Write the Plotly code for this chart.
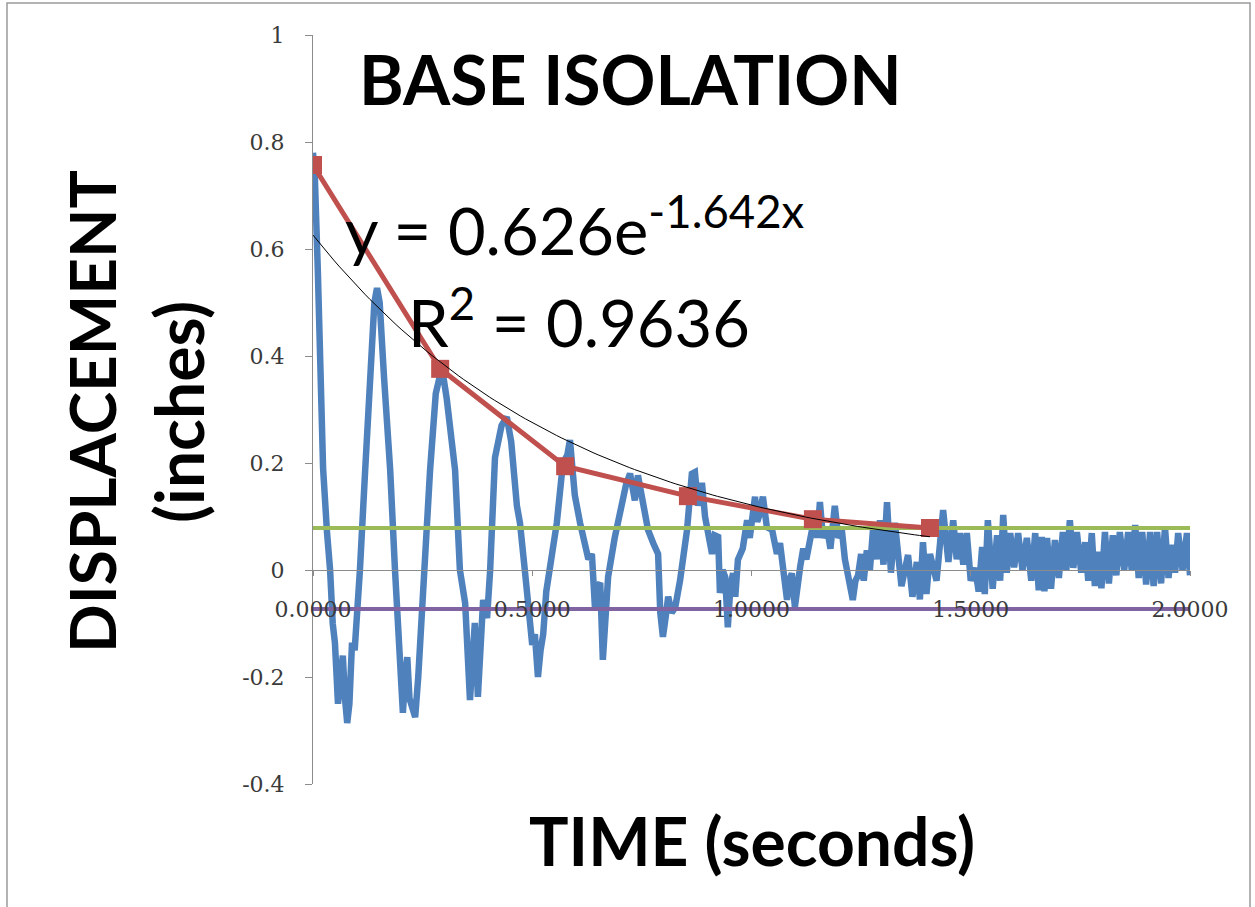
import numpy as np
import plotly.graph_objects as go

# ---------------- data ----------------
TIME_S = [
    0.000, 0.004, 0.011, 0.023, 0.032, 0.039, 0.045, 0.050, 0.057, 0.062, 0.068, 0.073, 0.078, 0.083, 0.089, 0.095, 0.100, 0.107,
    0.119, 0.130, 0.140, 0.146, 0.152, 0.162, 0.176, 0.187,
    0.195, 0.200, 0.205, 0.210, 0.215, 0.220, 0.233, 0.240, 0.245,
    0.255, 0.267, 0.280, 0.294, 0.305, 0.324, 0.335,
    0.342, 0.347, 0.358, 0.369, 0.376, 0.388, 0.397, 0.404,
    0.415, 0.430, 0.442, 0.452, 0.465, 0.472, 0.483,
    0.490, 0.495, 0.500, 0.506, 0.513, 0.519, 0.525, 0.532, 0.540,
    0.556, 0.570, 0.580, 0.586, 0.597, 0.609, 0.620, 0.628, 0.636, 0.643, 0.650, 0.655, 0.661, 0.667, 0.673,
    0.688, 0.705, 0.714, 0.723, 0.734, 0.741, 0.752, 0.764, 0.776, 0.787, 0.792, 0.798, 0.804, 0.810, 0.818, 0.826, 0.837,
    0.845, 0.853, 0.864, 0.871,
    0.878, 0.887, 0.894, 0.901, 0.910, 0.916, 0.924, 0.928, 0.934, 0.940, 0.946, 0.952, 0.958, 0.963, 0.969,
    0.980, 0.990, 0.996, 1.008, 1.013, 1.017, 1.026, 1.035, 1.047, 1.058, 1.065, 1.070, 1.076, 1.081, 1.086,
    1.092, 1.099, 1.105, 1.111, 1.118, 1.125, 1.138, 1.145, 1.150, 1.156, 1.163, 1.172, 1.180, 1.190, 1.198,
    1.206, 1.213, 1.220, 1.226, 1.231, 1.237, 1.243, 1.250, 1.256, 1.263, 1.270, 1.277, 1.285, 1.293,
    1.301, 1.309, 1.318, 1.327, 1.342, 1.357, 1.367, 1.377, 1.384, 1.391, 1.399, 1.407, 1.422, 1.437,
    1.449, 1.460, 1.468, 1.475, 1.483, 1.491, 1.500, 1.510, 1.518, 1.526, 1.532, 1.539, 1.550, 1.560,
    1.567, 1.574, 1.582, 1.590, 1.599, 1.608, 1.618, 1.628, 1.638, 1.647, 1.655, 1.662, 1.668, 1.674,
    1.683, 1.692, 1.701, 1.710, 1.718, 1.726, 1.734, 1.742, 1.752, 1.761, 1.768, 1.776, 1.783, 1.790,
    1.798, 1.806, 1.815, 1.824, 1.832, 1.840, 1.850, 1.859, 1.867, 1.875, 1.883, 1.891, 1.900, 1.909,
    1.917, 1.925, 1.934, 1.943, 1.951, 1.959, 1.966, 1.973, 1.983, 1.993, 2.000,
]
DISPLACEMENT_IN = [
    0.780, 0.740, 0.560, 0.190, 0.070, 0.000, -0.100, -0.136, -0.250, -0.200, -0.160, -0.240, -0.286, -0.250, -0.136, -0.150, -0.060, 0.000,
    0.187, 0.380, 0.500, 0.527, 0.500, 0.360, 0.187, 0.000,
    -0.118, -0.150, -0.267, -0.200, -0.163, -0.240, -0.275, -0.200, -0.118,
    0.000, 0.187, 0.330, 0.379, 0.320, 0.187, 0.000,
    -0.030, -0.062, -0.243, -0.099, -0.237, -0.056, -0.090, 0.000,
    0.210, 0.270, 0.286, 0.240, 0.120, 0.088, 0.000,
    -0.060, -0.100, -0.140, -0.120, -0.200, -0.150, -0.120, -0.040, 0.000,
    0.088, 0.200, 0.215, 0.243, 0.140, 0.088, 0.050, 0.020, 0.030, -0.070, -0.030, -0.024, -0.168, -0.060, -0.013,
    0.060, 0.130, 0.160, 0.180, 0.130, 0.177, 0.120, 0.075, 0.050, 0.030, -0.080, -0.125, -0.090, -0.050, -0.080, -0.070, -0.020,
    0.030, 0.075, 0.180, 0.183,
    0.120, 0.163, 0.100, 0.062, 0.030, 0.065, 0.062, -0.043, 0.000, -0.013, -0.107, -0.030, -0.006, -0.050, 0.019,
    0.040, 0.093, 0.060, 0.137, 0.090, 0.100, 0.137, 0.080, 0.075, 0.030, 0.050, 0.013, -0.030, -0.056, -0.020,
    -0.006, -0.069, -0.020, 0.006, 0.040, 0.020, 0.075, 0.100, 0.060, 0.127, 0.060, 0.080, 0.040, 0.120, 0.060,
    0.075, 0.020, -0.006, -0.040, -0.056, -0.020, -0.010, 0.030, -0.020, 0.037, 0.000, 0.075, 0.020, 0.093,
    0.010, 0.127, -0.005, 0.088, -0.030, 0.028, -0.050, 0.015, -0.055, 0.052, -0.045, 0.030, -0.020, 0.112,
    0.015, 0.093, 0.020, 0.069, 0.010, 0.069, -0.020, 0.004, -0.040, 0.043, -0.045, 0.093, -0.035, 0.065,
    -0.020, 0.103, -0.005, 0.069, 0.005, 0.069, 0.000, 0.060, -0.020, 0.069, -0.038, 0.062, -0.040, 0.060,
    -0.035, 0.056, -0.015, 0.071, 0.000, 0.093, 0.004, 0.071, -0.005, 0.052, -0.020, 0.069, -0.030, 0.034,
    -0.034, 0.071, -0.025, 0.065, -0.010, 0.071, 0.000, 0.071, 0.000, 0.084, -0.015, 0.071, -0.027, 0.071,
    -0.030, 0.071, -0.025, 0.080, -0.015, 0.047, -0.005, 0.069, 0.000, 0.069, -0.010,
]

PEAK_TIME_S = [0.000, 0.290, 0.575, 0.855, 1.140, 1.407]
PEAK_DISP_IN = [0.757, 0.376, 0.194, 0.138, 0.095, 0.0785]

FIT_A = 0.626
FIT_B = -1.642
FIT_R2 = 0.9636

UPPER_LEVEL = 0.0785
LOWER_LEVEL = -0.073
LEVEL_SPAN = [0.0, 2.0]

X_TICKS = [0.0, 0.5, 1.0, 1.5, 2.0]
Y_TICKS = [-0.4, -0.2, 0.0, 0.2, 0.4, 0.6, 0.8, 1.0]
Y_TICK_TEXT = ["-0.4", "-0.2", "0", "0.2", "0.4", "0.6", "0.8", "1"]

# ---------------- layout helpers ----------------
W, H = 1255, 907
L, R, T, B = 313, 1190, 35, 784


def px_x(p):
    return (p - L) / (R - L)


def px_y(p):
    return (B - p) / (B - T)


fit_t = np.linspace(PEAK_TIME_S[0], PEAK_TIME_S[-1], 120)
fit_y = FIT_A * np.exp(FIT_B * fit_t)

BLUE = "#4F81BD"
RED = "#C0504D"
GREEN = "#9BBB59"
PURPLE = "#8064A2"

fig = go.Figure()
fig.add_trace(go.Scatter(x=TIME_S, y=DISPLACEMENT_IN, mode="lines",
                         line=dict(color=BLUE, width=6.5), showlegend=False))
fig.add_trace(go.Scatter(x=LEVEL_SPAN, y=[UPPER_LEVEL] * 2, mode="lines",
                         line=dict(color=GREEN, width=4), showlegend=False))
fig.add_trace(go.Scatter(x=LEVEL_SPAN, y=[LOWER_LEVEL] * 2, mode="lines",
                         line=dict(color=PURPLE, width=4), showlegend=False))
fig.add_trace(go.Scatter(x=PEAK_TIME_S, y=PEAK_DISP_IN, mode="lines+markers",
                         line=dict(color=RED, width=5),
                         marker=dict(symbol="square", size=18, color=RED),
                         showlegend=False))
fig.add_trace(go.Scatter(x=fit_t, y=fit_y, mode="lines",
                         line=dict(color="black", width=1), showlegend=False))

tick_font = dict(family="DejaVu Serif, Liberation Serif, serif", size=22, color="#3a3a3a")

fig.update_layout(
    width=W, height=H,
    margin=dict(l=L, r=W - R, t=T, b=H - B),
    paper_bgcolor="white", plot_bgcolor="white",
    xaxis=dict(range=[0, 2], tickvals=X_TICKS, tickformat=".4f",
               showgrid=False, zeroline=False, showline=True, linecolor="#8c8c8c", linewidth=1,
               ticks="outside", ticklen=5, tickcolor="#8c8c8c",
               anchor="free", position=(0 - Y_TICKS[0]) / (Y_TICKS[-1] - Y_TICKS[0]),
               ticklabelstandoff=15, tickfont=tick_font),
    yaxis=dict(range=[-0.4, 1.0], tickvals=Y_TICKS, ticktext=Y_TICK_TEXT,
               showgrid=False, zeroline=False, showline=True, linecolor="#8c8c8c", linewidth=1,
               ticks="outside", ticklen=7, tickcolor="#8c8c8c",
               ticklabelstandoff=16, tickfont=tick_font),
)

bold = "Lato, Open Sans, sans-serif"
ann = [
    dict(text="<b>BASE ISOLATION</b>", x=px_x(630), y=px_y(78), size=68, angle=0, xa="center"),
    dict(text="<b>DISPLACEMENT</b>", x=px_x(91), y=px_y(412), size=64, angle=-90, xa="center"),
    dict(text="<b>(inches)</b>", x=px_x(178), y=px_y(412), size=66, angle=-90, xa="center"),
    dict(text="<b>TIME (seconds)</b>", x=px_x(752), y=px_y(840), size=66, angle=0, xa="center"),
    dict(text="y = 0.626e<sup>-1.642x</sup>", x=px_x(343), y=px_y(226), size=65, angle=0, xa="left"),
    dict(text="R<sup>2</sup> = 0.9636", x=px_x(406), y=px_y(318), size=65, angle=0, xa="left"),
]
for a in ann:
    fig.add_annotation(text=a["text"], x=a["x"], y=a["y"], xref="paper", yref="paper",
                       xanchor=a["xa"], yanchor="middle", showarrow=False, textangle=a["angle"],
                       font=dict(family=bold, size=a["size"], color="black"))

# outer frame of the picture
fig.add_shape(type="rect", xref="paper", yref="paper",
              x0=px_x(7), x1=px_x(1250), y0=px_y(915), y1=px_y(3),
              line=dict(color="#9a9a9a", width=1.5), fillcolor="rgba(0,0,0,0)", layer="below")

fig.write_html("out.html")
